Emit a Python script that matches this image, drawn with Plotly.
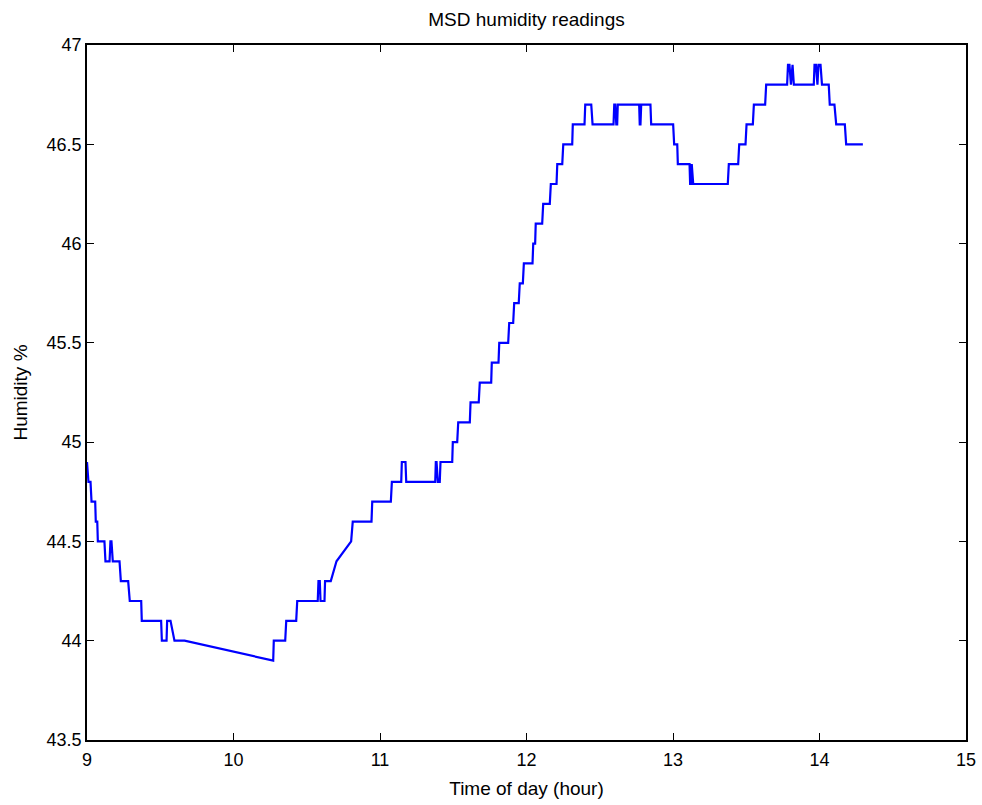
import plotly.graph_objects as go

# Sample times (hours of day) and humidity readings (%)
time_hr = [
    9.000, 9.010, 9.024, 9.031, 9.056, 9.060, 9.070, 9.074, 9.119, 9.126,
    9.154, 9.160, 9.167, 9.176, 9.222, 9.231, 9.281, 9.292, 9.370, 9.374,
    9.506, 9.511, 9.543, 9.547, 9.570, 9.597, 9.666, 10.271, 10.275, 10.353,
    10.360, 10.428, 10.435, 10.575, 10.580, 10.589, 10.594, 10.621, 10.625, 10.664,
    10.703, 10.803, 10.814, 10.942, 10.947, 11.074, 11.081, 11.145, 11.149, 11.174,
    11.179, 11.377, 11.381, 11.386, 11.395, 11.408, 11.413, 11.493, 11.497, 11.527,
    11.534, 11.613, 11.618, 11.674, 11.681, 11.759, 11.763, 11.809, 11.814, 11.875,
    11.882, 11.909, 11.916, 11.947, 11.954, 11.975, 11.982, 12.041, 12.046, 12.059,
    12.063, 12.107, 12.114, 12.159, 12.166, 12.205, 12.210, 12.244, 12.251, 12.312,
    12.316, 12.396, 12.401, 12.442, 12.451, 12.594, 12.599, 12.606, 12.613, 12.619,
    12.623, 12.769, 12.773, 12.778, 12.783, 12.846, 12.851, 13.001, 13.008, 13.029,
    13.033, 13.113, 13.117, 13.124, 13.128, 13.138, 13.374, 13.381, 13.445, 13.452,
    13.495, 13.502, 13.545, 13.552, 13.629, 13.636, 13.779, 13.785, 13.795, 13.805,
    13.816, 13.825, 13.961, 13.966, 13.976, 13.986, 13.993, 14.007, 14.017, 14.063,
    14.070, 14.102, 14.114, 14.173, 14.182, 14.296,
]
humidity = [
    44.9, 44.8, 44.8, 44.7, 44.7, 44.6, 44.6, 44.5, 44.5, 44.4,
    44.4, 44.5, 44.5, 44.4, 44.4, 44.3, 44.3, 44.2, 44.2, 44.1,
    44.1, 44.0, 44.0, 44.1, 44.1, 44.0, 44.0, 43.9, 44.0, 44.0,
    44.1, 44.1, 44.2, 44.2, 44.3, 44.3, 44.2, 44.2, 44.3, 44.3,
    44.4, 44.5, 44.6, 44.6, 44.7, 44.7, 44.8, 44.8, 44.9, 44.9,
    44.8, 44.8, 44.9, 44.9, 44.8, 44.8, 44.9, 44.9, 45.0, 45.0,
    45.1, 45.1, 45.2, 45.2, 45.3, 45.3, 45.4, 45.4, 45.5, 45.5,
    45.6, 45.6, 45.7, 45.7, 45.8, 45.8, 45.9, 45.9, 46.0, 46.0,
    46.1, 46.1, 46.2, 46.2, 46.3, 46.3, 46.4, 46.4, 46.5, 46.5,
    46.6, 46.6, 46.7, 46.7, 46.6, 46.6, 46.7, 46.7, 46.6, 46.6,
    46.7, 46.7, 46.6, 46.6, 46.7, 46.7, 46.6, 46.6, 46.5, 46.5,
    46.4, 46.4, 46.3, 46.3, 46.4, 46.3, 46.3, 46.4, 46.4, 46.5,
    46.5, 46.6, 46.6, 46.7, 46.7, 46.8, 46.8, 46.9, 46.9, 46.8,
    46.9, 46.8, 46.8, 46.9, 46.9, 46.8, 46.9, 46.9, 46.8, 46.8,
    46.7, 46.7, 46.6, 46.6, 46.5, 46.5,
]

x_ticks = [9, 10, 11, 12, 13, 14, 15]
y_ticks = [43.5, 44, 44.5, 45, 45.5, 46, 46.5, 47]
y_tick_text = ["43.5", "44", "44.5", "45", "45.5", "46", "46.5", "47"]

FONT = "Liberation Sans, Arial, Helvetica, sans-serif"

fig = go.Figure(
    go.Scatter(
        x=time_hr,
        y=humidity,
        mode="lines",
        line=dict(color="#0000ff", width=2.2),
        showlegend=False,
    )
)

axis_common = dict(
    showgrid=False,
    zeroline=False,
    showline=True,
    linecolor="black",
    linewidth=1.5,
    mirror="ticks",
    ticks="inside",
    ticklen=7,
    tickwidth=1,
    tickcolor="black",
    automargin=False,
    tickfont=dict(family=FONT, size=18, color="black"),
)

fig.update_layout(
    width=982,
    height=805,
    margin=dict(l=87, r=16, t=45, b=65),
    paper_bgcolor="white",
    plot_bgcolor="white",
    title=dict(
        text="MSD humidity readings",
        x=0.5,
        xref="paper",
        y=1 - 19 / 805,
        yref="container",
        xanchor="center",
        yanchor="middle",
        automargin=False,
        font=dict(family=FONT, size=19, color="black"),
    ),
    xaxis=dict(
        range=[9, 15],
        tickvals=x_ticks,
        ticklabelstandoff=3,
        title=dict(text="Time of day (hour)", font=dict(family=FONT, size=19, color="black"), standoff=12),
        **axis_common,
    ),
    yaxis=dict(
        range=[43.5, 47],
        tickvals=y_ticks,
        ticktext=y_tick_text,
        title=dict(text="Humidity %", font=dict(family=FONT, size=19, color="black"), standoff=14),
        **axis_common,
    ),
)

fig.write_html("out.html")
